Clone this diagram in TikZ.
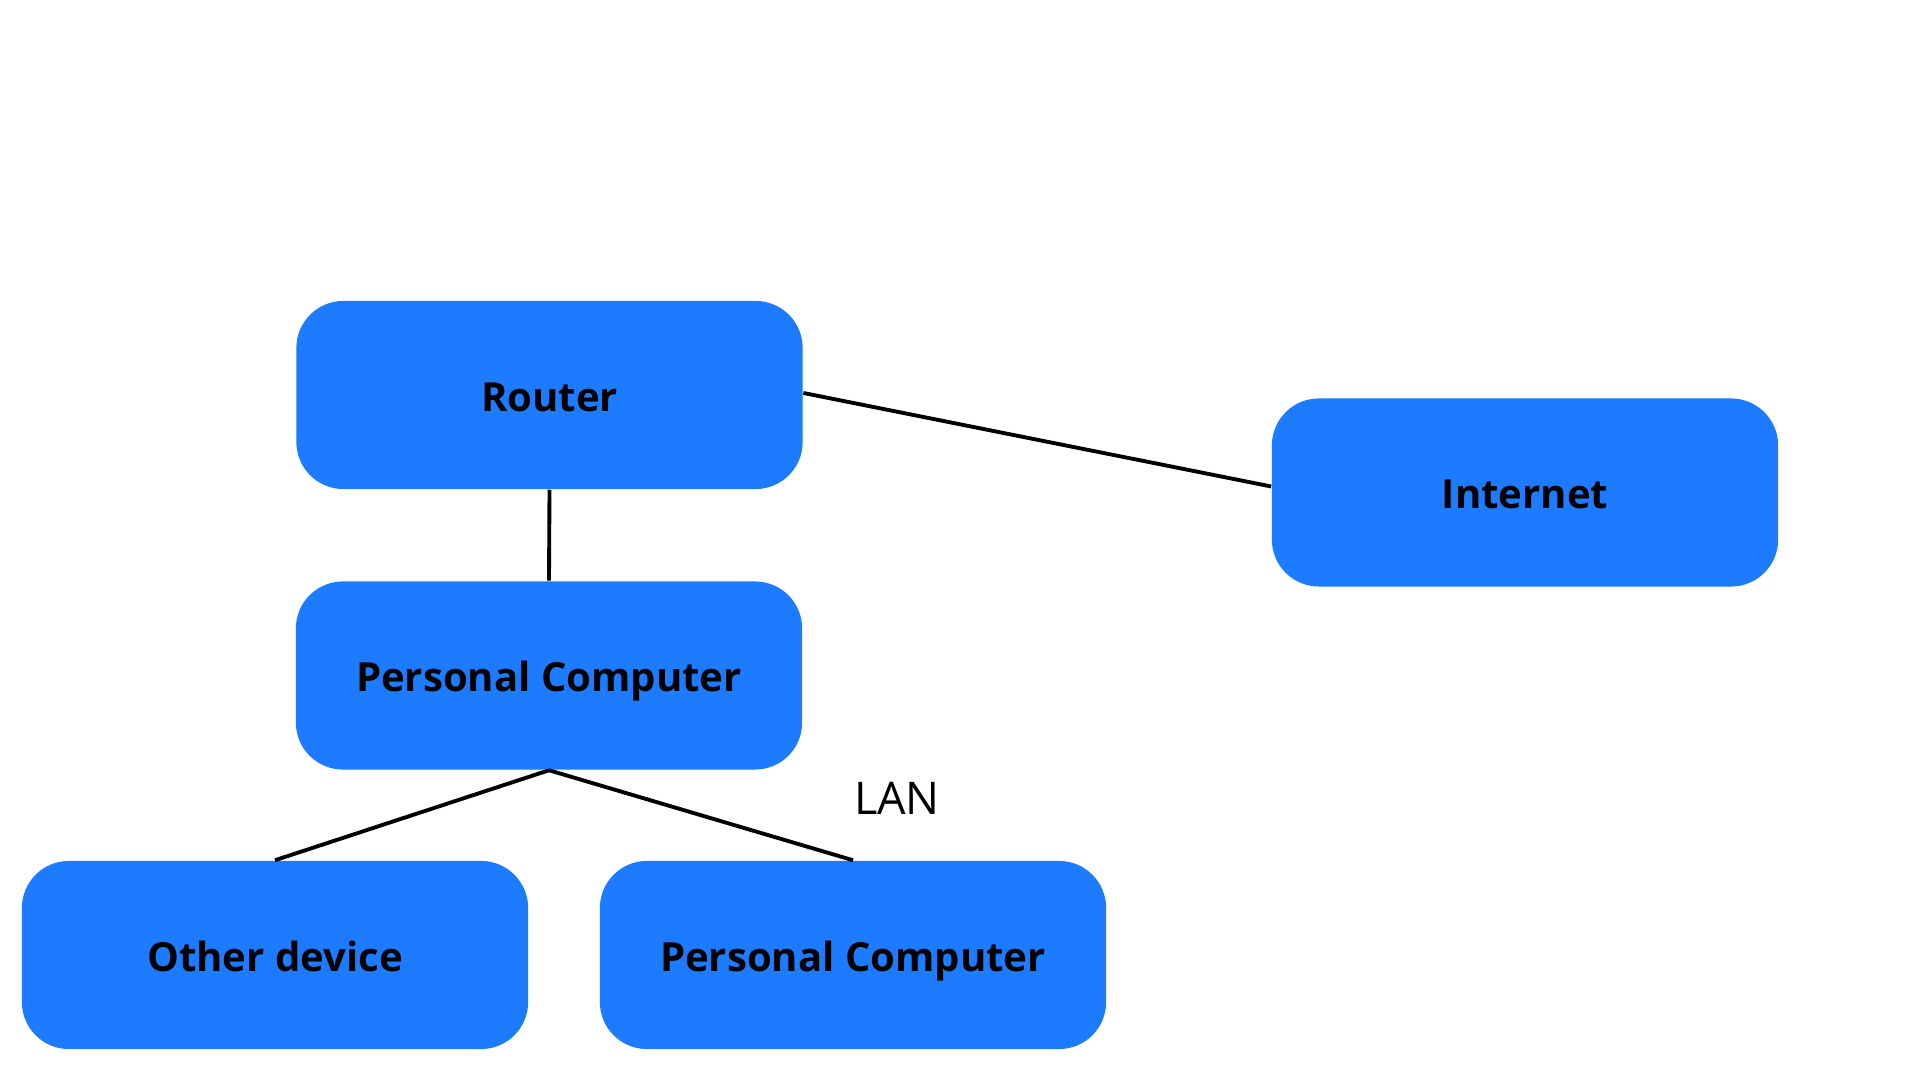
\documentclass[tikz,border=0pt]{standalone}
\usepackage{fontspec}
\setmainfont{Open Sans}
\definecolor{boxblue}{RGB}{28,123,255}
\begin{document}
\begin{tikzpicture}[x=0.01cm,y=-0.01cm,
  netbox/.style={fill=boxblue, draw=none, rounded corners=0.47cm,
    minimum width=5.06cm, minimum height=1.88cm, inner sep=0pt,
    text height=0.92em, text depth=0pt,
    font=\fontsize{11.4}{14}\selectfont\bfseries},
  link/.style={draw=black, line width=1.1pt}]
\useasboundingbox[fill=white] (0,0) rectangle (1920,1080);
\node[netbox] (router) at (549.5,395) {Router};
\node[netbox] (internet) at (1525,492.5) {Internet};
\node[netbox] (pc1) at (549,675.5) {Personal Computer};
\node[netbox] (other) at (275,955) {Other device};
\node[netbox] (pc2) at (853,955) {Personal Computer};
\node[font=\fontsize{12.8}{15}\selectfont] (lan) at (897,798) {LAN};
\draw[link] ([yshift=0.02cm]router.east) -- ([yshift=0.06cm]internet.west);
\draw[link] (router.south) -- (pc1.north);
\draw[link] (pc1.south) -- (other.north);
\draw[link] (pc1.south) -- (pc2.north);
\end{tikzpicture}
\end{document}
